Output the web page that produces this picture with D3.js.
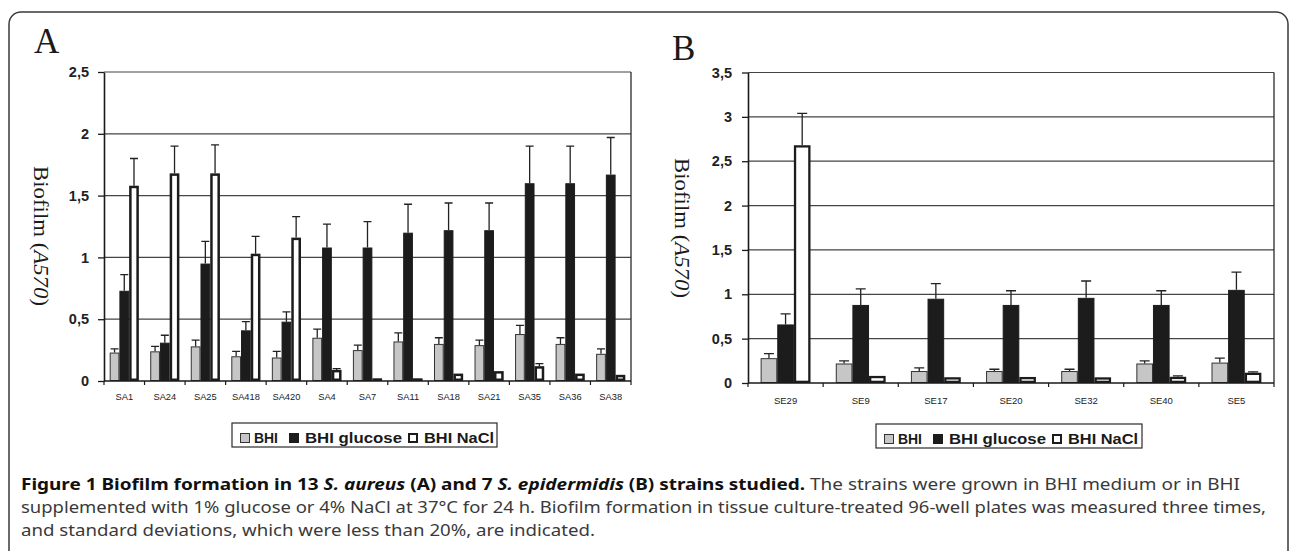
<!DOCTYPE html>
<html>
<head>
<meta charset="utf-8">
<script src="https://cdn.jsdelivr.net/npm/d3@7"></script>
<style>
  body { margin: 0; background: #fff; }
  svg { display: block; }
</style>
</head>
<body>
<div id="chart"></div>
<script>
// ---- data ----
var seriesNames = ["BHI", "BHI glucose", "BHI NaCl"];

// panel A : S. aureus
var strainsA    = ["SA1", "SA24", "SA25", "SA418", "SA420", "SA4", "SA7", "SA11", "SA18", "SA21", "SA35", "SA36", "SA38"];
var bhiA        = [0.23, 0.24, 0.28, 0.20, 0.19, 0.35, 0.25, 0.32, 0.30, 0.29, 0.38, 0.30, 0.22];
var bhiErrA     = [0.03, 0.04, 0.05, 0.04, 0.05, 0.07, 0.04, 0.07, 0.05, 0.04, 0.07, 0.05, 0.04];
var glucoseA    = [0.73, 0.31, 0.95, 0.41, 0.48, 1.08, 1.08, 1.20, 1.22, 1.22, 1.60, 1.60, 1.67];
var glucoseErrA = [0.13, 0.06, 0.18, 0.07, 0.08, 0.19, 0.21, 0.23, 0.22, 0.22, 0.30, 0.30, 0.30];
var naclA       = [1.58, 1.68, 1.68, 1.03, 1.16, 0.09, 0.02, 0.02, 0.06, 0.08, 0.12, 0.06, 0.05];
var naclErrA    = [0.22, 0.22, 0.23, 0.14, 0.17, 0.01, 0, 0, 0, 0, 0.02, 0, 0];
var ticksA      = [0, 0.5, 1, 1.5, 2, 2.5];

// panel B : S. epidermidis
var strainsB    = ["SE29", "SE9", "SE17", "SE20", "SE32", "SE40", "SE5"];
var bhiB        = [0.28, 0.22, 0.135, 0.135, 0.135, 0.22, 0.23];
var bhiErrB     = [0.05, 0.03, 0.035, 0.02, 0.02, 0.03, 0.05];
var glucoseB    = [0.66, 0.88, 0.95, 0.88, 0.96, 0.88, 1.05];
var glucoseErrB = [0.12, 0.18, 0.17, 0.16, 0.19, 0.16, 0.20];
var naclB       = [2.68, 0.08, 0.065, 0.068, 0.064, 0.07, 0.116];
var naclErrB    = [0.36, 0, 0, 0, 0, 0.01, 0.01];
var ticksB      = [0, 0.5, 1, 1.5, 2, 2.5, 3, 3.5];

var fills   = ["#c6c6c6", "#1c1c1c", "#ffffff"];
var strokes = ["#333333", "#1c1c1c", "#1c1c1c"];

var svg = d3.select("#chart")
    .append("svg")
    .attr("width", 1292)
    .attr("height", 551);

// outer frame with rounded corners (bottom runs off the picture)
svg.append("rect")
    .attr("x", 9).attr("y", 12)
    .attr("width", 1279).attr("height", 620)
    .attr("rx", 12)
    .attr("fill", "none")
    .attr("stroke", "#3a3a3a")
    .attr("stroke-width", 1.5);

function drawPanel(p) {
    var x = d3.scaleBand().domain(p.strains).range([p.left, p.right]).padding(0);
    var xs = d3.scaleBand().domain(seriesNames).range([0, x.bandwidth()])
        .paddingInner(0).paddingOuter(p.groupPad);
    var y = d3.scaleLinear().domain([0, p.max]).range([p.bottom, p.top]);
    var g = svg.append("g");

    // gridlines
    g.selectAll(".grid")
        .data(p.ticks.filter(function (t) { return t > 0; }))
        .enter().append("line")
        .attr("x1", p.left).attr("x2", p.right)
        .attr("y1", function (d) { return y(d); })
        .attr("y2", function (d) { return y(d); })
        .attr("stroke", "#454545")
        .attr("stroke-width", 1.2);

    // right border of plot
    g.append("line")
        .attr("x1", p.right).attr("x2", p.right)
        .attr("y1", y(p.max)).attr("y2", y(0))
        .attr("stroke", "#2a2a2a").attr("stroke-width", 1.3);

    // bars
    var rows = [];
    var vals = [p.bhi, p.glucose, p.nacl];
    var errs = [p.bhiErr, p.glucoseErr, p.naclErr];
    seriesNames.forEach(function (s, si) {
        p.strains.forEach(function (c, ci) {
            rows.push({s: s, si: si, c: c, v: vals[si][ci], e: errs[si][ci]});
        });
    });
    var sw = [1, 1, p.naclStroke];

    // a very short outlined bar collapses to its stroke, so keep a sliver of height
    g.selectAll(".bar")
        .data(rows)
        .enter().append("rect")
        .attr("x", function (d) { return x(d.c) + xs(d.s) + sw[d.si] / 2; })
        .attr("width", function (d) { return xs.bandwidth() - sw[d.si]; })
        .attr("y", function (d) { return Math.min(y(d.v) + sw[d.si] / 2, y(0) - sw[d.si] / 2 - 0.2); })
        .attr("height", function (d) { return Math.max(0.2, y(0) - y(d.v) - sw[d.si]); })
        .attr("fill", function (d) { return fills[d.si]; })
        .attr("stroke", function (d) { return strokes[d.si]; })
        .attr("stroke-width", function (d) { return sw[d.si]; });

    // error bars (upper only)
    var withErr = rows.filter(function (d) { return d.e > 0; });
    var cx = function (d) { return x(d.c) + xs(d.s) + xs.bandwidth() / 2; };
    g.selectAll(".err")
        .data(withErr)
        .enter().append("path")
        .attr("d", function (d) {
            var yt = y(d.v + d.e), xc = cx(d);
            return "M" + xc + "," + y(d.v) + "V" + yt +
                "M" + (xc - p.cap / 2) + "," + yt + "H" + (xc + p.cap / 2);
        })
        .attr("fill", "none")
        .attr("stroke", "#222")
        .attr("stroke-width", 1.3);

    // y axis
    var yAxis = g.append("g")
        .attr("transform", "translate(" + p.left + ",0)")
        .call(d3.axisLeft(y).tickValues(p.ticks).tickSize(6).tickSizeOuter(0)
            .tickPadding(p.tickPad)
            .tickFormat(function (d) { return String(d).replace(".", ","); }));
    yAxis.attr("font-family", "'Liberation Sans', Arial, sans-serif")
        .attr("font-size", 14.5)
        .attr("font-weight", "bold");
    yAxis.select(".domain").attr("stroke", "#1a1a1a").attr("stroke-width", 1.6);
    yAxis.selectAll(".tick line").attr("stroke", "#1a1a1a").attr("stroke-width", 1.3);
    yAxis.selectAll(".tick text").attr("fill", "#222");

    // x axis line + ticks on band boundaries
    g.append("line")
        .attr("x1", p.left).attr("x2", p.right)
        .attr("y1", y(0)).attr("y2", y(0))
        .attr("stroke", "#1a1a1a").attr("stroke-width", 1.6);
    g.selectAll(".xtick")
        .data(p.strains.concat(["end"]))
        .enter().append("line")
        .attr("x1", function (d) { return d === "end" ? p.right : x(d); })
        .attr("x2", function (d) { return d === "end" ? p.right : x(d); })
        .attr("y1", y(0)).attr("y2", y(0) + 4)
        .attr("stroke", "#1a1a1a").attr("stroke-width", 1.2);

    var xAxis = g.append("g")
        .attr("transform", "translate(0," + y(0) + ")")
        .call(d3.axisBottom(x).tickSize(0).tickPadding(p.labelPad));
    xAxis.select(".domain").remove();
    xAxis.attr("font-family", "'Liberation Sans', Arial, sans-serif")
        .attr("font-size", p.labelSize);
    xAxis.selectAll("text").attr("fill", "#222");

    // panel letter
    svg.append("text")
        .attr("x", p.letterX).attr("y", p.letterY)
        .attr("font-family", "'Liberation Serif', 'Times New Roman', serif")
        .attr("font-size", 35)
        .attr("fill", "#1a1a1a")
        .text(p.letter);

    // y title, rotated to read top to bottom
    var t = svg.append("text")
        .attr("transform", "translate(" + p.titleX + "," + p.titleY + ") rotate(90)")
        .attr("text-anchor", "middle")
        .attr("dominant-baseline", "central")
        .attr("font-family", "'Liberation Serif', 'Times New Roman', serif")
        .attr("font-size", 21)
        .attr("fill", "#1a1a1a")
        .attr("textLength", 140)
        .attr("lengthAdjust", "spacingAndGlyphs");
    t.append("tspan").text("Biofilm (");
    t.append("tspan").attr("font-style", "italic").text("A570");
    t.append("tspan").text(")");

    // legend
    var lg = svg.append("g").attr("transform", "translate(" + p.legX + "," + p.legY + ")");
    lg.append("rect")
        .attr("width", p.legW).attr("height", 24)
        .attr("fill", "none").attr("stroke", "#2a2a2a").attr("stroke-width", 1.2);
    var symX = [8, 57, 176];
    var txtX = [22, 73, 192];
    var txtW = [24, 97, 70];
    seriesNames.forEach(function (s, i) {
        var w = i === 2 ? 2 : 1;
        lg.append("rect")
            .attr("x", symX[i] + w / 2).attr("y", 10 + w / 2)
            .attr("width", 10 - w).attr("height", 10 - w)
            .attr("fill", fills[i]).attr("stroke", strokes[i]).attr("stroke-width", w);
        lg.append("text")
            .attr("x", txtX[i]).attr("y", 20)
            .attr("font-family", "'Liberation Sans', Arial, sans-serif")
            .attr("font-weight", "bold")
            .attr("font-size", 15)
            .attr("fill", "#1a1a1a")
            .attr("textLength", txtW[i])
            .attr("lengthAdjust", "spacingAndGlyphs")
            .text(s);
    });
}

drawPanel({
    strains: strainsA, bhi: bhiA, bhiErr: bhiErrA, glucose: glucoseA, glucoseErr: glucoseErrA,
    nacl: naclA, naclErr: naclErrA, ticks: ticksA, max: 2.5,
    left: 104, right: 631, top: 72, bottom: 381,
    groupPad: 0.585, cap: 8, naclStroke: 2.5, tickPad: 9, labelPad: 12, labelSize: 9.3,
    letter: "A", letterX: 34, letterY: 53, titleX: 41, titleY: 236,
    legX: 232, legY: 423, legW: 265
});

drawPanel({
    strains: strainsB, bhi: bhiB, bhiErr: bhiErrB, glucose: glucoseB, glucoseErr: glucoseErrB,
    nacl: naclB, naclErr: naclErrB, ticks: ticksB, max: 3.5,
    left: 748, right: 1274, top: 72.5, bottom: 383,
    groupPad: 0.76, cap: 10, naclStroke: 2.3, tickPad: 10, labelPad: 14, labelSize: 9.5,
    letter: "B", letterX: 672, letterY: 60, titleX: 682, titleY: 228,
    legX: 876, legY: 424, legW: 266
});

// caption
var capFont = "'Noto Sans', 'Open Sans', sans-serif";
var caption = svg.append("g")
    .attr("font-family", capFont)
    .attr("font-size", 16)
    .attr("fill", "#3a3a3a");

var l1 = caption.append("text").attr("x", 21).attr("y", 490)
    .attr("textLength", 1219).attr("lengthAdjust", "spacingAndGlyphs");
l1.append("tspan").attr("font-weight", "bold").attr("fill", "#111").text("Figure 1 Biofilm formation in 13 ");
l1.append("tspan").attr("font-weight", "bold").attr("font-style", "italic").attr("fill", "#111").text("S. aureus");
l1.append("tspan").attr("font-weight", "bold").attr("fill", "#111").text(" (A) and 7 ");
l1.append("tspan").attr("font-weight", "bold").attr("font-style", "italic").attr("fill", "#111").text("S. epidermidis");
l1.append("tspan").attr("font-weight", "bold").attr("fill", "#111").text(" (B) strains studied.");
l1.append("tspan").text(" The strains were grown in BHI medium or in BHI");

caption.append("text").attr("x", 21).attr("y", 513)
    .attr("textLength", 1245).attr("lengthAdjust", "spacingAndGlyphs")
    .text("supplemented with 1% glucose or 4% NaCl at 37°C for 24 h. Biofilm formation in tissue culture-treated 96-well plates was measured three times,");

caption.append("text").attr("x", 21).attr("y", 536)
    .attr("textLength", 574).attr("lengthAdjust", "spacingAndGlyphs")
    .text("and standard deviations, which were less than 20%, are indicated.");
</script>
</body>
</html>
